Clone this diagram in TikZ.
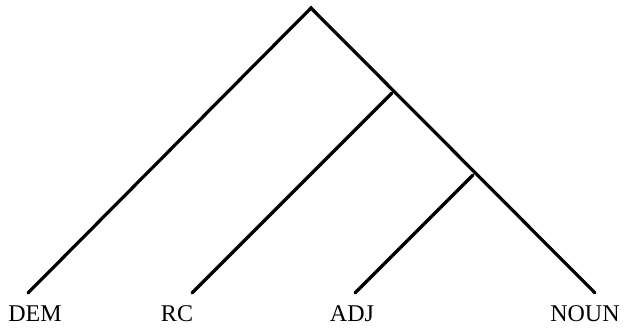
\documentclass[tikz,border=0pt]{standalone}
\usepackage{fontspec}
\setmainfont{Liberation Serif}
\begin{document}
\begin{tikzpicture}[x=1pt,y=-1pt,
  branch/.style={line width=3.2pt,line cap=round},
  leaflabel/.style={anchor=base,inner sep=0pt,font=\fontsize{24}{24}\selectfont}]
\useasboundingbox (0,0) rectangle (625,328);
\coordinate (r) at (311,8);
\coordinate (n2) at (392,93);
\coordinate (n3) at (473,175);
\coordinate (dem) at (28,293);
\coordinate (rc) at (192,293);
\coordinate (adj) at (355,293);
\coordinate (noun) at (595,293);
\draw[branch] (dem) -- (r) -- (noun);
\draw[branch] (rc) -- (n2);
\draw[branch] (adj) -- (n3);
\node[leaflabel] (ldem) at (35,322) {DEM};
\node[leaflabel] (lrc) at (177,322) {RC};
\node[leaflabel] (ladj) at (352,322) {ADJ};
\node[leaflabel] (lnoun) at (585,322) {NOUN};
\end{tikzpicture}
\end{document}
